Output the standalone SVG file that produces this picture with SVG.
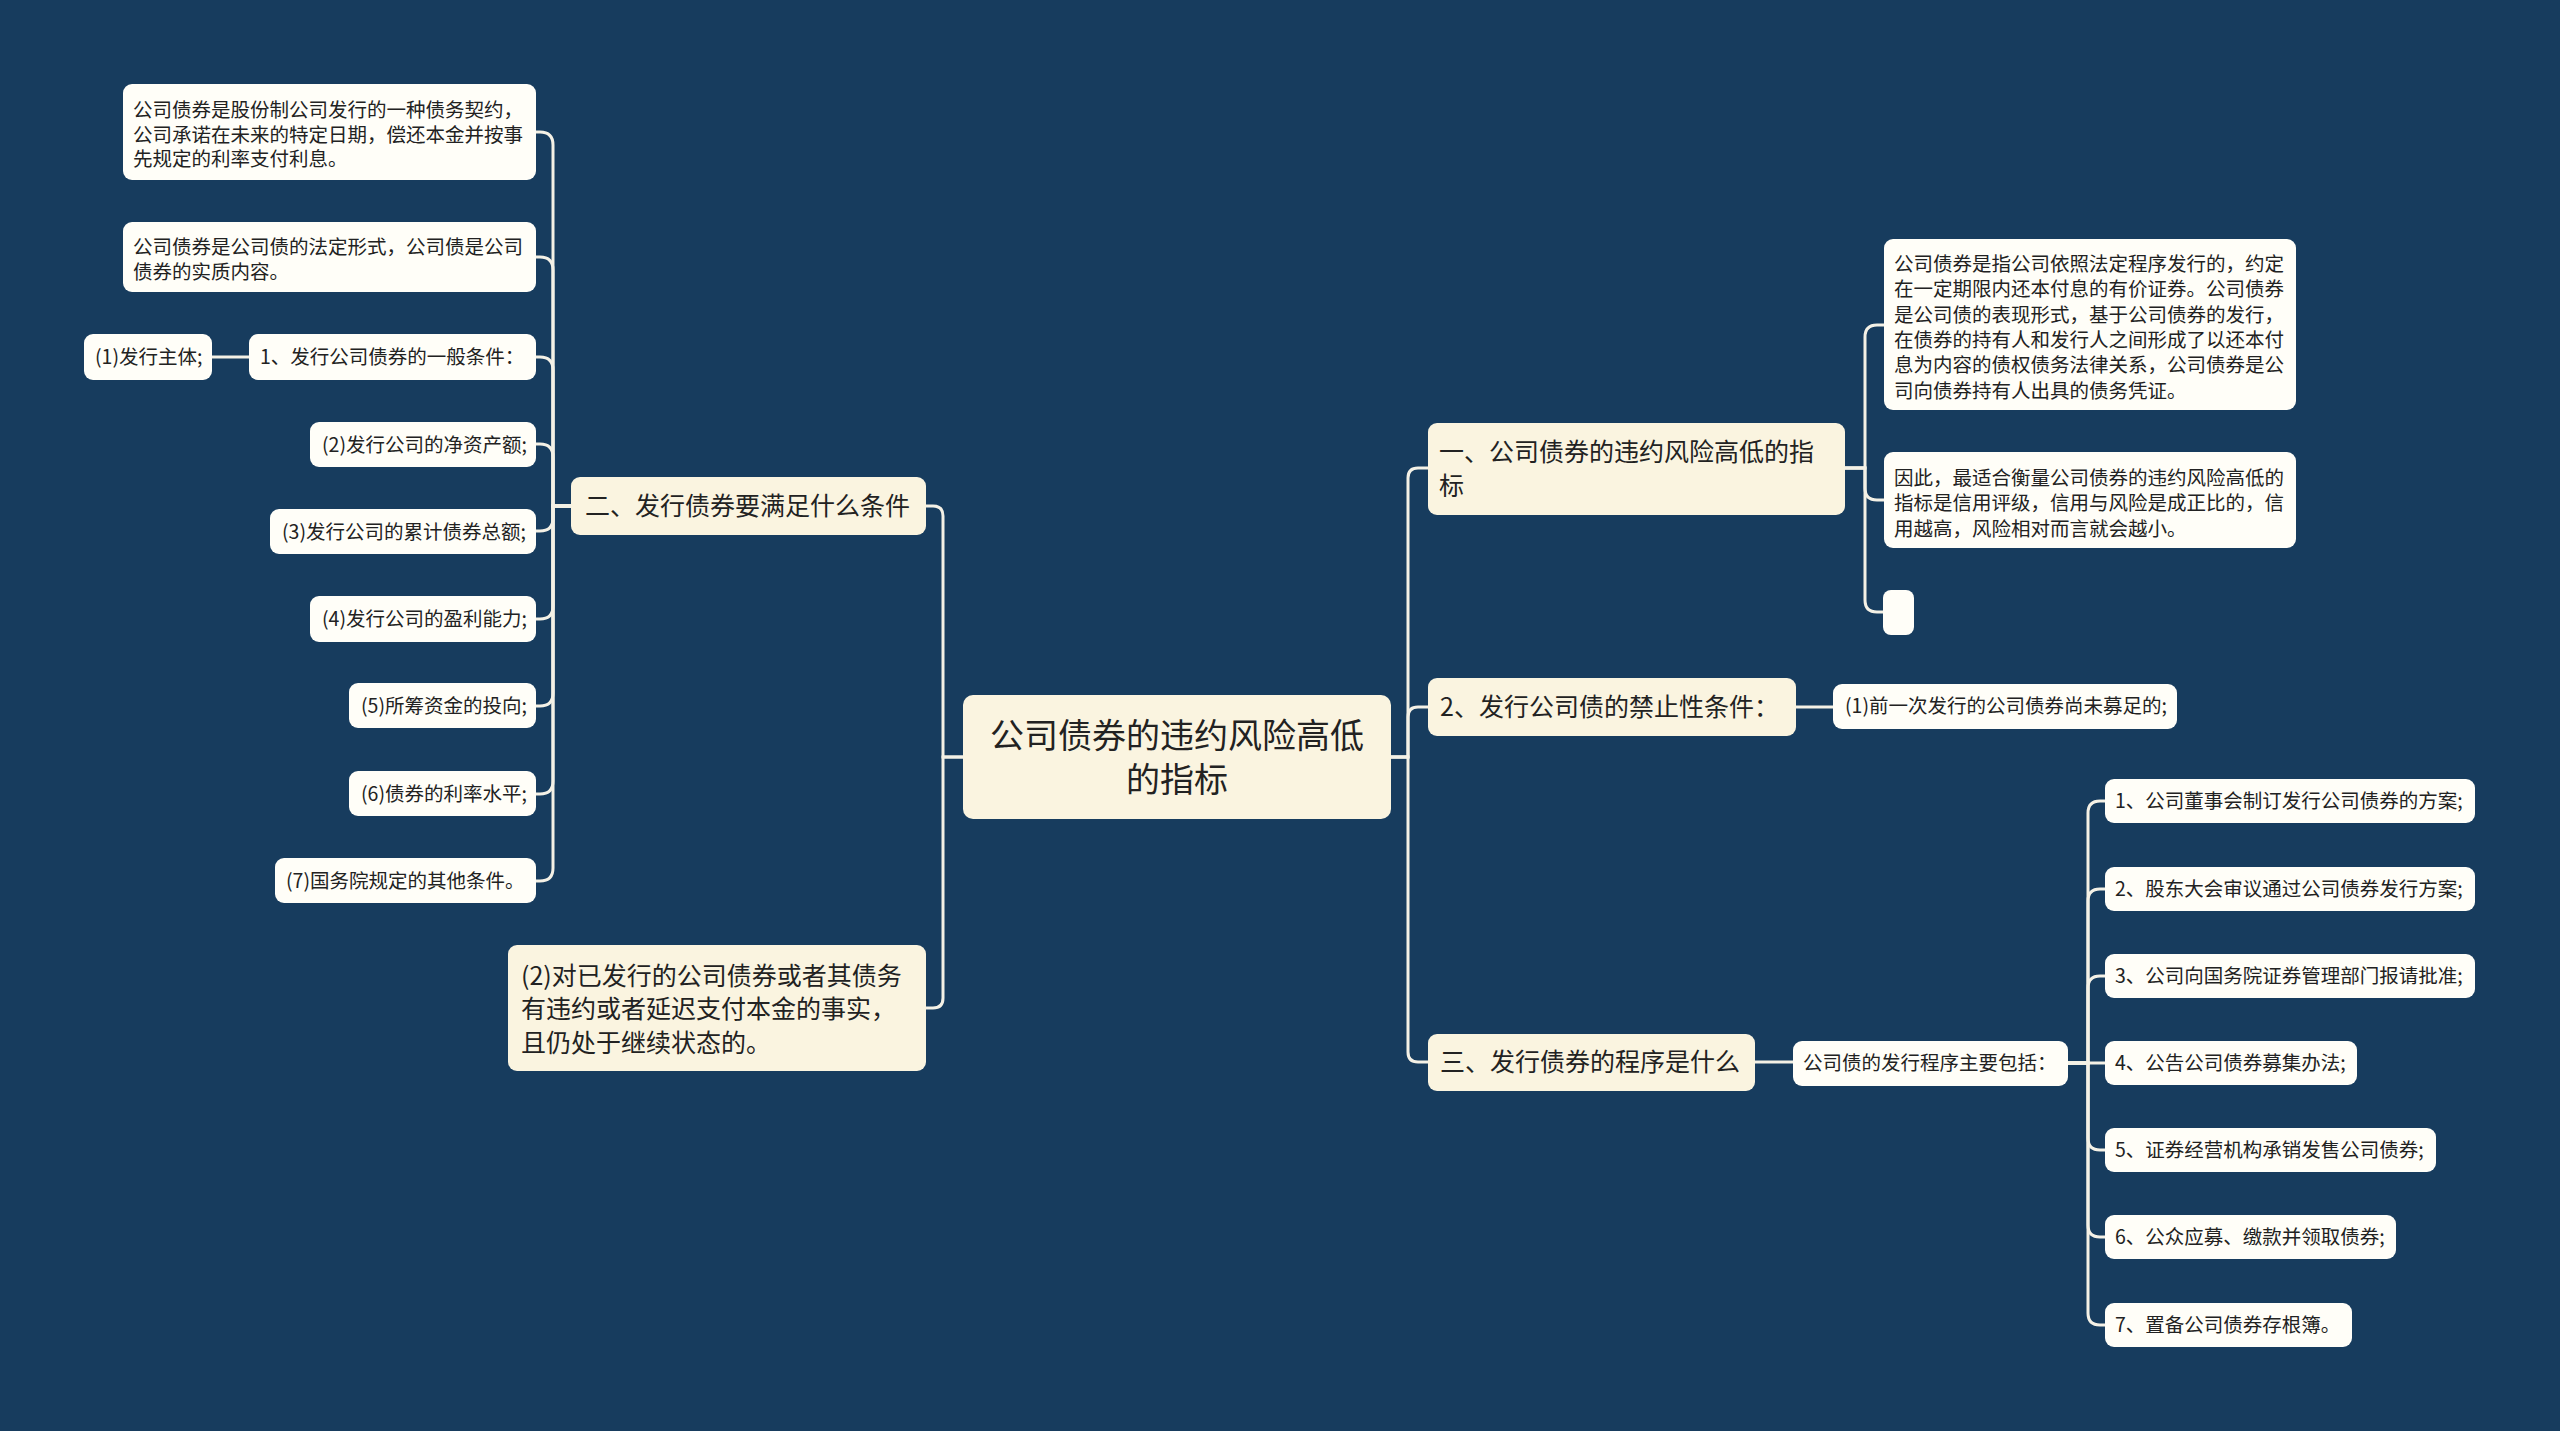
<svg xmlns="http://www.w3.org/2000/svg" width="2560" height="1431" viewBox="0 0 2560 1431">
<style>
.bg{fill:#173c5e}
.root{fill:#faf4e0}
.mid{fill:#faf4e0}
.leaf{fill:#fffef8}
text{font-family:"Noto Sans CJK SC","Microsoft YaHei",sans-serif;fill:#222222}
.t34{font-size:34px}
.t25{font-size:25px}
.t19{font-size:19.5px}
.con path{fill:none;stroke:#f4f1e6;stroke-width:3;stroke-linecap:round}
</style>
<rect class="bg" x="0" y="0" width="2560" height="1431"/>
<g class="con">
<!-- root left -->
<path d="M963 757 H943 V516 Q943 506 933 506 H926"/>
<path d="M963 757 H943 V998 Q943 1008 933 1008 H926"/>
<!-- root right -->
<path d="M1391 757 H1408 V478 Q1408 468 1418 468 H1428"/>
<path d="M1391 757 H1408 V717 Q1408 707 1418 707 H1428"/>
<path d="M1391 757 H1408 V1052 Q1408 1062 1418 1062 H1428"/>
<!-- 二 to leaves -->
<path d="M571 506 H553 V145 Q553 132 540 132 H536"/>
<path d="M571 506 H553 V270 Q553 257 540 257 H536"/>
<path d="M571 506 H553 V370 Q553 357 540 357 H536"/>
<path d="M571 506 H553 V457 Q553 444 540 444 H536"/>
<path d="M571 506 H553 V518 Q553 531 540 531 H536"/>
<path d="M571 506 H553 V606 Q553 619 540 619 H536"/>
<path d="M571 506 H553 V693 Q553 706 540 706 H536"/>
<path d="M571 506 H553 V781 Q553 794 540 794 H536"/>
<path d="M571 506 H553 V868 Q553 881 540 881 H536"/>
<path d="M249 357 H212"/>
<!-- 一 to leaves -->
<path d="M1845 468 H1865 V337 Q1865 325 1877 325 H1884"/>
<path d="M1845 468 H1865 V488 Q1865 500 1877 500 H1884"/>
<path d="M1845 468 H1865 V600 Q1865 612 1877 612 H1883"/>
<!-- 2、 -->
<path d="M1796 707 H1833"/>
<!-- 三 -->
<path d="M1755 1062 H1793"/>
<!-- procedures -->
<path d="M2068 1063 H2088 V813 Q2088 801 2100 801 H2105"/>
<path d="M2068 1063 H2088 V901 Q2088 889 2100 889 H2105"/>
<path d="M2068 1063 H2088 V988 Q2088 976 2100 976 H2105"/>
<path d="M2068 1063 H2105"/>
<path d="M2068 1063 H2088 V1138 Q2088 1150 2100 1150 H2105"/>
<path d="M2068 1063 H2088 V1225 Q2088 1237 2100 1237 H2105"/>
<path d="M2068 1063 H2088 V1313 Q2088 1325 2100 1325 H2105"/>
</g>

<g id="root">
<rect class="root" x="963" y="695" width="428" height="124" rx="10"/>
<text class="t34" x="1177" y="748" text-anchor="middle">公司债券的违约风险高低</text>
<text class="t34" x="1177" y="792" text-anchor="middle">的指标</text>
</g>

<g id="n-er">
<rect class="mid" x="571" y="477" width="355" height="58" rx="9"/>
<text class="t25" x="585" y="515">二、发行债券要满足什么条件</text>
</g>
<g id="n-def1">
<rect class="leaf" x="123" y="84" width="413" height="96" rx="9"/>
<text class="t19" x="133" y="117">公司债券是股份制公司发行的一种债务契约，</text>
<text class="t19" x="133" y="142">公司承诺在未来的特定日期，偿还本金并按事</text>
<text class="t19" x="133" y="166">先规定的利率支付利息。</text>
</g>
<g id="n-def2">
<rect class="leaf" x="123" y="222" width="413" height="70" rx="9"/>
<text class="t19" x="133" y="254">公司债券是公司债的法定形式，公司债是公司</text>
<text class="t19" x="133" y="279">债券的实质内容。</text>
</g>
<g id="n-cond1">
<rect class="leaf" x="249" y="334" width="287" height="46" rx="9"/>
<text class="t19" x="260" y="364">1、发行公司债券的一般条件：</text>
</g>
<g id="n-cond1a">
<rect class="leaf" x="84" y="334" width="128" height="46" rx="9"/>
<text class="t19" x="95" y="364">(1)发行主体;</text>
</g>
<g id="n-cond2">
<rect class="leaf" x="310" y="422" width="226" height="45" rx="9"/>
<text class="t19" x="322" y="452">(2)发行公司的净资产额;</text>
</g>
<g id="n-cond3">
<rect class="leaf" x="270" y="509" width="266" height="45" rx="9"/>
<text class="t19" x="282" y="539">(3)发行公司的累计债券总额;</text>
</g>
<g id="n-cond4">
<rect class="leaf" x="310" y="596" width="226" height="46" rx="9"/>
<text class="t19" x="322" y="626">(4)发行公司的盈利能力;</text>
</g>
<g id="n-cond5">
<rect class="leaf" x="349" y="683" width="187" height="45" rx="9"/>
<text class="t19" x="361" y="713">(5)所筹资金的投向;</text>
</g>
<g id="n-cond6">
<rect class="leaf" x="349" y="771" width="187" height="45" rx="9"/>
<text class="t19" x="361" y="801">(6)债券的利率水平;</text>
</g>
<g id="n-cond7">
<rect class="leaf" x="275" y="858" width="261" height="45" rx="9"/>
<text class="t19" x="286" y="888">(7)国务院规定的其他条件。</text>
</g>
<g id="n-default">
<rect class="mid" x="508" y="945" width="418" height="126" rx="9"/>
<text class="t25" x="521" y="985">(2)对已发行的公司债券或者其债务</text>
<text class="t25" x="521" y="1018">有违约或者延迟支付本金的事实，</text>
<text class="t25" x="521" y="1052">且仍处于继续状态的。</text>
</g>

<g id="n-yi">
<rect class="mid" x="1428" y="423" width="417" height="92" rx="9"/>
<text class="t25" x="1439" y="461">一、公司债券的违约风险高低的指</text>
<text class="t25" x="1439" y="495">标</text>
</g>
<g id="n-yiA">
<rect class="leaf" x="1884" y="239" width="412" height="171" rx="9"/>
<text class="t19" x="1894" y="271">公司债券是指公司依照法定程序发行的，约定</text>
<text class="t19" x="1894" y="296">在一定期限内还本付息的有价证券。公司债券</text>
<text class="t19" x="1894" y="322">是公司债的表现形式，基于公司债券的发行，</text>
<text class="t19" x="1894" y="347">在债券的持有人和发行人之间形成了以还本付</text>
<text class="t19" x="1894" y="372">息为内容的债权债务法律关系，公司债券是公</text>
<text class="t19" x="1894" y="398">司向债券持有人出具的债务凭证。</text>
</g>
<g id="n-yiB">
<rect class="leaf" x="1884" y="452" width="412" height="96" rx="9"/>
<text class="t19" x="1894" y="485">因此，最适合衡量公司债券的违约风险高低的</text>
<text class="t19" x="1894" y="510">指标是信用评级，信用与风险是成正比的，信</text>
<text class="t19" x="1894" y="536">用越高，风险相对而言就会越小。</text>
</g>
<g id="n-yiC">
<rect class="leaf" x="1883" y="590" width="31" height="45" rx="8"/>
</g>
<g id="n-ban">
<rect class="mid" x="1428" y="678" width="368" height="58" rx="9"/>
<text class="t25" x="1440" y="716">2、发行公司债的禁止性条件：</text>
</g>
<g id="n-ban1">
<rect class="leaf" x="1833" y="684" width="344" height="45" rx="9"/>
<text class="t19" x="1845" y="713">(1)前一次发行的公司债券尚未募足的;</text>
</g>
<g id="n-san">
<rect class="mid" x="1428" y="1034" width="327" height="57" rx="9"/>
<text class="t25" x="1440" y="1071">三、发行债券的程序是什么</text>
</g>
<g id="n-proc">
<rect class="leaf" x="1793" y="1041" width="275" height="45" rx="9"/>
<text class="t19" x="1803" y="1070">公司债的发行程序主要包括：</text>
</g>
<g id="n-p1">
<rect class="leaf" x="2105" y="779" width="370" height="44" rx="9"/>
<text class="t19" x="2115" y="808">1、公司董事会制订发行公司债券的方案;</text>
</g>
<g id="n-p2">
<rect class="leaf" x="2105" y="867" width="370" height="44" rx="9"/>
<text class="t19" x="2115" y="896">2、股东大会审议通过公司债券发行方案;</text>
</g>
<g id="n-p3">
<rect class="leaf" x="2105" y="954" width="370" height="44" rx="9"/>
<text class="t19" x="2115" y="983">3、公司向国务院证券管理部门报请批准;</text>
</g>
<g id="n-p4">
<rect class="leaf" x="2105" y="1041" width="252" height="44" rx="9"/>
<text class="t19" x="2115" y="1070">4、公告公司债券募集办法;</text>
</g>
<g id="n-p5">
<rect class="leaf" x="2105" y="1128" width="331" height="44" rx="9"/>
<text class="t19" x="2115" y="1157">5、证券经营机构承销发售公司债券;</text>
</g>
<g id="n-p6">
<rect class="leaf" x="2105" y="1215" width="291" height="44" rx="9"/>
<text class="t19" x="2115" y="1244">6、公众应募、缴款并领取债券;</text>
</g>
<g id="n-p7">
<rect class="leaf" x="2105" y="1303" width="247" height="44" rx="9"/>
<text class="t19" x="2115" y="1332">7、置备公司债券存根簿。</text>
</g>
</svg>
